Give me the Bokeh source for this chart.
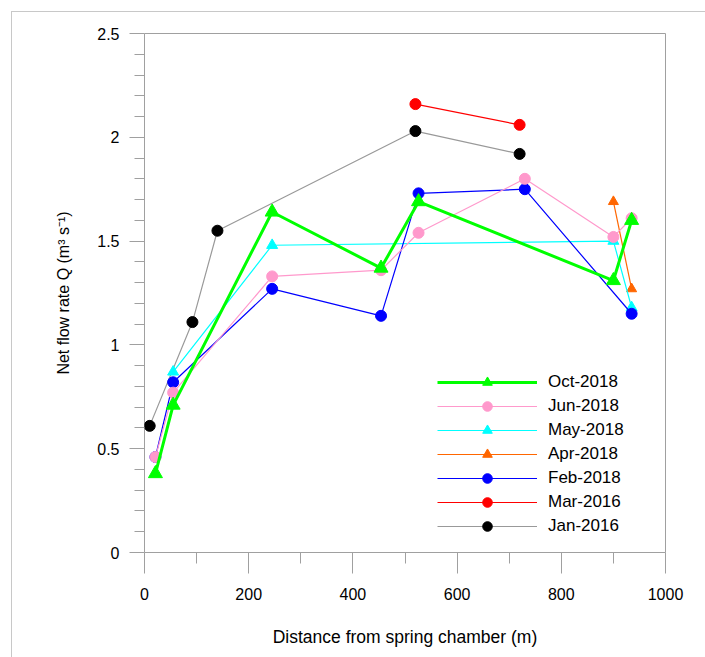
from bokeh.plotting import figure
from bokeh.models import Range1d, FixedTicker, Legend, LegendItem
from bokeh.embed import file_html
from bokeh.resources import INLINE

# ---- data ----
oct_x = [21, 55, 245, 454, 526, 900, 935]
oct_y = [0.38, 0.71, 1.64, 1.37, 1.69, 1.31, 1.60]
jun_x = [21, 55, 245, 454, 526, 730, 900, 935]
jun_y = [0.46, 0.77, 1.33, 1.36, 1.54, 1.80, 1.52, 1.61]
may_x = [55, 245, 900, 935]
may_y = [0.87, 1.48, 1.50, 1.18]
apr_x = [900, 935]
apr_y = [1.69, 1.27]
feb_x = [21, 55, 245, 454, 526, 730, 935]
feb_y = [0.46, 0.82, 1.27, 1.14, 1.73, 1.75, 1.15]
mar_x = [520, 720]
mar_y = [2.16, 2.06]
jan_x = [10, 92, 140, 520, 720]
jan_y = [0.61, 1.11, 1.55, 2.03, 1.92]

x_ticks = [0, 200, 400, 600, 800, 1000]
x_minor = [100, 300, 500, 700, 900]
x_tick_labels = ["0", "200", "400", "600", "800", "1000"]
y_ticks = [0, 0.5, 1, 1.5, 2, 2.5]
y_minor = [0.1, 0.2, 0.3, 0.4, 0.6, 0.7, 0.8, 0.9, 1.1, 1.2, 1.3, 1.4,
           1.6, 1.7, 1.8, 1.9, 2.1, 2.2, 2.3, 2.4]
y_tick_labels = ["0", "0.5", "1", "1.5", "2", "2.5"]

FONT = "Liberation Sans"
TICK = "#a0a0a0"

p = figure(width=705, height=657, output_backend="svg", toolbar_location=None,
           x_range=Range1d(0, 1000), y_range=Range1d(0, 2.5),
           min_border_left=144, min_border_right=40,
           min_border_top=33, min_border_bottom=105)
p.grid.visible = False
p.outline_line_color = "#a0a0a0"
p.outline_line_width = 1

# outer light frame of the whole picture (top and left edges visible)
p.stylesheets = [
    ":host { position: relative; }"
    ":host::after { content: ''; position: absolute; left: 11px; top: 11px;"
    " right: 0px; bottom: 0px; border-top: 1px solid #c8c8c8;"
    " border-left: 1px solid #c8c8c8; pointer-events: none; z-index: 10; }"
]

p.xaxis.ticker = FixedTicker(ticks=x_ticks, minor_ticks=x_minor)
p.yaxis.ticker = FixedTicker(ticks=y_ticks, minor_ticks=y_minor)
p.xaxis.major_label_overrides = {t: l for t, l in zip(x_ticks, x_tick_labels)}
p.yaxis.major_label_overrides = {t: l for t, l in zip(y_ticks, y_tick_labels)}

for ax in (p.xaxis[0], p.yaxis[0]):
    ax.axis_line_color = None
    ax.major_tick_line_color = TICK
    ax.minor_tick_line_color = TICK
    ax.major_tick_in = 0
    ax.minor_tick_in = 0
    ax.major_label_text_font = FONT
    ax.major_label_text_font_size = "16px"
    ax.major_label_text_color = "black"
    ax.axis_label_text_font = FONT
    ax.axis_label_text_font_style = "normal"
    ax.axis_label_text_color = "black"

p.xaxis.axis_label_text_font_size = "17.5px"
p.yaxis.axis_label_text_font_size = "16px"
p.xaxis.major_tick_out = 21
p.xaxis.minor_tick_out = 11
p.yaxis.major_tick_out = 15
p.yaxis.minor_tick_out = 10
p.xaxis.major_label_standoff = 14
p.yaxis.major_label_standoff = 10
p.xaxis.axis_label = "Distance from spring chamber (m)"
p.yaxis.axis_label = "Net flow rate Q (m\u00b3 s\u207b\u00b9)"
p.xaxis.axis_label_standoff = 24
p.yaxis.axis_label_standoff = 22

# drawing order bottom -> top
jan_l = p.line(jan_x, jan_y, line_color="#999999", line_width=1.2)
jan_m = p.scatter(jan_x, jan_y, marker="circle", size=11, color="black")
mar_l = p.line(mar_x, mar_y, line_color="#ff0000", line_width=1.2)
mar_m = p.scatter(mar_x, mar_y, marker="circle", size=11, color="#ff0000")
apr_l = p.line(apr_x, apr_y, line_color="#ff6600", line_width=1.2)
apr_m = p.scatter(apr_x, apr_y, marker="triangle", size=10, color="#ff6600")
may_l = p.line(may_x, may_y, line_color="#00ffff", line_width=1.2)
may_m = p.scatter(may_x, may_y, marker="triangle", size=11, color="#00ffff")
feb_l = p.line(feb_x, feb_y, line_color="#0000ff", line_width=1.2)
feb_m = p.scatter(feb_x, feb_y, marker="circle", size=11, color="#0000ff")
jun_l = p.line(jun_x, jun_y, line_color="#ff99cc", line_width=1.2)
jun_m = p.scatter(jun_x, jun_y, marker="circle", size=11, color="#ff99cc")
oct_l = p.line(oct_x, oct_y, line_color="#00ff00", line_width=3)
oct_m = p.scatter(oct_x, oct_y, marker="triangle", size=14, color="#00ff00")

items = [
    LegendItem(label="Oct-2018", renderers=[oct_l, oct_m]),
    LegendItem(label="Jun-2018", renderers=[jun_l, jun_m]),
    LegendItem(label="May-2018", renderers=[may_l, may_m]),
    LegendItem(label="Apr-2018", renderers=[apr_l, apr_m]),
    LegendItem(label="Feb-2018", renderers=[feb_l, feb_m]),
    LegendItem(label="Mar-2016", renderers=[mar_l, mar_m]),
    LegendItem(label="Jan-2016", renderers=[jan_l, jan_m]),
]
legend = Legend(items=items, location=(293, 14), padding=0, margin=0,
                spacing=0, glyph_width=100, glyph_height=24, label_height=24,
                label_standoff=11, border_line_color=None,
                background_fill_alpha=0, label_text_color="black",
                label_text_font=FONT, label_text_font_size="17px")
p.add_layout(legend)

open("out.html", "w").write(file_html(p, INLINE))
